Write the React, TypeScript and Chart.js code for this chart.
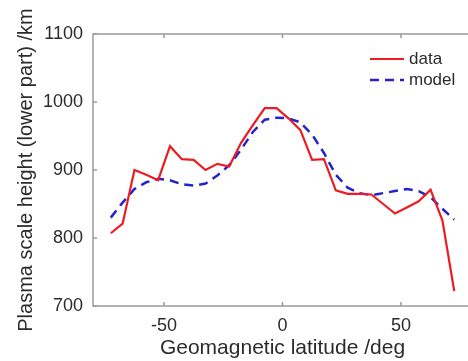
import React, { useEffect, useRef } from "react";
import { Chart, registerables } from "chart.js";

Chart.register(...registerables);

const latitudes = [-72.5, -67.5, -62.5, -57.5, -52.5, -47.5, -42.5, -37.5, -32.5, -27.5, -22.5, -17.5, -12.5, -7.5, -2.5, 2.5, 7.5, 12.5, 17.5, 22.5, 27.5, 32.5, 37.5, 42.5, 47.5, 52.5, 57.5, 62.5, 67.5, 72.5];
const dataValues = [807, 821, 900, 893, 885, 935, 916, 915, 900, 909, 905, 940, 966, 991, 991, 976, 959, 915, 916, 870, 865, 865, 864, 850, 836, 845, 854, 871, 826, 722];
const modelValues = [830, 852, 872, 882, 887, 885, 879, 877, 880, 892, 907, 930, 956, 974, 977, 976, 970, 952, 925, 893, 874, 866, 863, 866, 869, 872, 869, 860, 843, 827];
const xTicks = [-50, 0, 50];
const yTicks = [700, 800, 900, 1000, 1100];
const seriesLabels = ["data", "model"];
const xTitle = "Geomagnetic latitude /deg";
const yTitle = "Plasma scale height (lower part) /km";

const FONT = "'Liberation Sans', Arial, Helvetica, sans-serif";
const AXIS_COLOR = "#9a9a9a";
const TEXT_COLOR = "#2b2b2b";

const framePlugin = {
  id: "frame",
  afterDatasetsDraw(chart: any) {
    const { ctx, chartArea } = chart;
    const { left, right, top, bottom } = chartArea;
    ctx.save();
    ctx.strokeStyle = AXIS_COLOR;
    ctx.lineWidth = 1.5;
    ctx.beginPath();
    ctx.rect(left, top, right - left, bottom - top);
    ctx.stroke();
    const tl = 4;
    ctx.beginPath();
    xTicks.forEach((v) => {
      const px = chart.scales.x.getPixelForValue(v);
      ctx.moveTo(px, bottom);
      ctx.lineTo(px, bottom - tl);
      ctx.moveTo(px, top);
      ctx.lineTo(px, top + tl);
    });
    yTicks.forEach((v) => {
      const py = chart.scales.y.getPixelForValue(v);
      ctx.moveTo(left, py);
      ctx.lineTo(left + tl, py);
      ctx.moveTo(right, py);
      ctx.lineTo(right - tl, py);
    });
    ctx.stroke();
    ctx.restore();
  },
};

const legendPlugin = {
  id: "insideLegend",
  afterDraw(chart: any) {
    const { ctx } = chart;
    const items = chart.data.datasets;
    const x0 = 370;
    const x1 = 404;
    const ys = [59, 80];
    ctx.save();
    items.forEach((ds: any, i: number) => {
      const y = ys[i];
      ctx.strokeStyle = ds.borderColor;
      ctx.lineWidth = ds.borderWidth;
      ctx.setLineDash(ds.borderDash || []);
      ctx.beginPath();
      ctx.moveTo(x0, y);
      ctx.lineTo(x1, y);
      ctx.stroke();
      ctx.setLineDash([]);
      ctx.fillStyle = TEXT_COLOR;
      ctx.font = `17px ${FONT}`;
      ctx.textBaseline = "middle";
      ctx.textAlign = "left";
      ctx.fillText(ds.label, 409, y);
    });
    ctx.restore();
  },
};

export default function App() {
  const ref = useRef<HTMLCanvasElement | null>(null);

  useEffect(() => {
    if (!ref.current) return;
    const chart = new Chart(ref.current, {
      type: "line",
      data: {
        datasets: [
          {
            label: seriesLabels[0],
            data: latitudes.map((x, i) => ({ x, y: dataValues[i] })),
            borderColor: "#ec1c24",
            borderWidth: 2.2,
            pointRadius: 0,
            tension: 0,
            fill: false,
          },
          {
            label: seriesLabels[1],
            data: latitudes.map((x, i) => ({ x, y: modelValues[i] })),
            borderColor: "#2323cc",
            borderWidth: 2.5,
            borderDash: [9, 6],
            pointRadius: 0,
            tension: 0,
            fill: false,
          },
        ],
      },
      options: {
        animation: false,
        responsive: false,
        layout: { padding: { top: 34, right: 8, left: 0, bottom: 0 } },
        plugins: { legend: { display: false }, tooltip: { enabled: false } },
        scales: {
          x: {
            type: "linear",
            min: -80,
            max: 80,
            afterBuildTicks: (s: any) => {
              s.ticks = xTicks.map((v) => ({ value: v }));
            },
            afterFit: (s: any) => {
              s.height = 55;
            },
            grid: { display: false, drawTicks: false },
            border: { display: false },
            ticks: {
              padding: 9,
              color: TEXT_COLOR,
              font: { family: FONT, size: 18 },
              callback: (v: any) => String(v),
            },
            title: {
              display: true,
              text: xTitle,
              color: TEXT_COLOR,
              font: { family: FONT, size: 21 },
              padding: { top: 0, bottom: 0 },
            },
          },
          y: {
            type: "linear",
            min: 700,
            max: 1100,
            afterBuildTicks: (s: any) => {
              s.ticks = yTicks.map((v) => ({ value: v }));
            },
            afterFit: (s: any) => {
              s.width = 93;
            },
            grid: { display: false, drawTicks: false },
            border: { display: false },
            ticks: {
              padding: 10,
              color: TEXT_COLOR,
              font: { family: FONT, size: 18 },
              callback: (v: any) => String(v),
            },
            title: {
              display: true,
              text: yTitle,
              color: TEXT_COLOR,
              font: { family: FONT, size: 20 },
              padding: { top: 14, bottom: 0 },
            },
          },
        },
      },
      plugins: [framePlugin, legendPlugin],
    });
    return () => chart.destroy();
  }, []);

  return (
    <div
      style={{
        position: "fixed",
        left: 0,
        top: 0,
        width: 468,
        height: 361,
        overflow: "hidden",
        background: "#fff",
      }}
    >
      <canvas ref={ref} width={480} height={361} style={{ display: "block" }} />
    </div>
  );
}
